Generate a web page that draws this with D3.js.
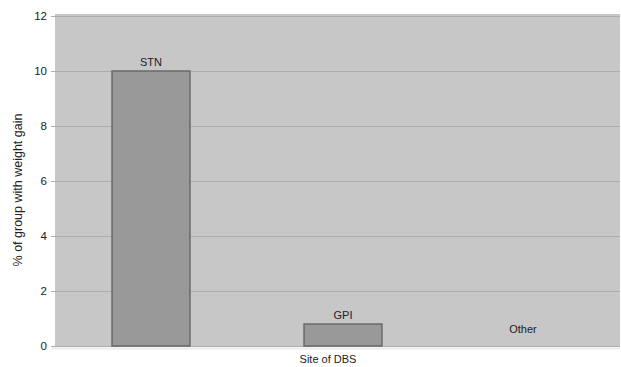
<!DOCTYPE html>
<html>
<head>
<meta charset="utf-8">
<script src="https://cdn.jsdelivr.net/npm/d3@7"></script>
<style>
  body { margin: 0; background: #fff; }
  text { font-family: "Liberation Sans", Arial, sans-serif; fill: #222; }
</style>
</head>
<body>
<div class="chart"></div>
<script>
var sites = ["STN", "GPI", "Other"];
var weightGain = [10, 0.8, 0];
var yTicks = [0, 2, 4, 6, 8, 10, 12];

var width = 621, height = 367;
var plot = {left: 55, right: 620, top: 16, bottom: 346};

var svg = d3.select(".chart").append("svg")
	.attr("width", width)
	.attr("height", height);

var x = d3.scaleBand().domain(sites).range([55, 631]).paddingInner(0.594).paddingOuter(0.297);
var y = d3.scaleLinear().domain([0, 12]).range([plot.bottom, plot.top]);

// plot background
svg.append("rect")
	.attr("x", plot.left)
	.attr("y", plot.top - 2)
	.attr("width", plot.right - plot.left)
	.attr("height", plot.bottom - plot.top + 2)
	.style("fill", "#c7c7c7");

svg.append("line")
	.attr("x1", plot.left - 3).attr("x2", plot.right)
	.attr("y1", plot.bottom + 2.5).attr("y2", plot.bottom + 2.5)
	.style("stroke", "#ececec").style("stroke-width", 2);

// gridlines + tick labels
var yAxis = svg.append("g")
	.attr("class", "y axis")
	.attr("transform", "translate(" + plot.left + ",0)")
	.call(d3.axisLeft(y).tickValues(yTicks).tickSize(-(plot.right - plot.left)).tickPadding(8));
yAxis.select(".domain").remove();
yAxis.selectAll(".tick line").style("stroke", "#adadad").style("stroke-width", 1.2)
	.attr("x1", -4);
yAxis.selectAll(".tick text").style("font-size", "11.5px").style("fill", "#222")
	.style("font-family", "Liberation Sans, Arial, sans-serif");

// bars
var bars = svg.selectAll(".bar").data(sites).enter().append("g").attr("class", "bar");
bars.append("rect")
	.attr("x", function(d){ return x(d); })
	.attr("y", function(d, i){ return y(weightGain[i]); })
	.attr("width", x.bandwidth())
	.attr("height", function(d, i){ return y(0) - y(weightGain[i]); })
	.style("fill", function(d, i){ return weightGain[i] > 0 ? "#999999" : "none"; })
	.style("stroke", function(d, i){ return weightGain[i] > 0 ? "#6a6a6a" : "none"; })
	.style("stroke-width", 1.5);

// "Other" label sits a little left and low in the original
bars.append("text")
	.attr("x", function(d, i){ return x(d) + x.bandwidth() / 2 - (weightGain[i] > 0 ? 0 : 12); })
	.attr("y", function(d, i){ return y(Math.max(weightGain[i], 0.3)) - 5; })
	.style("text-anchor", "middle")
	.style("font-size", "11px")
	.text(function(d){ return d; });

// axis titles
svg.append("text")
	.attr("x", 328)
	.attr("y", 363)
	.style("text-anchor", "middle")
	.style("font-size", "11px")
	.text("Site of DBS");

svg.append("text")
	.attr("transform", "translate(22,190) rotate(-90)")
	.style("text-anchor", "middle")
	.style("font-size", "12.5px")
	.text("% of group with weight gain");
</script>
</body>
</html>
